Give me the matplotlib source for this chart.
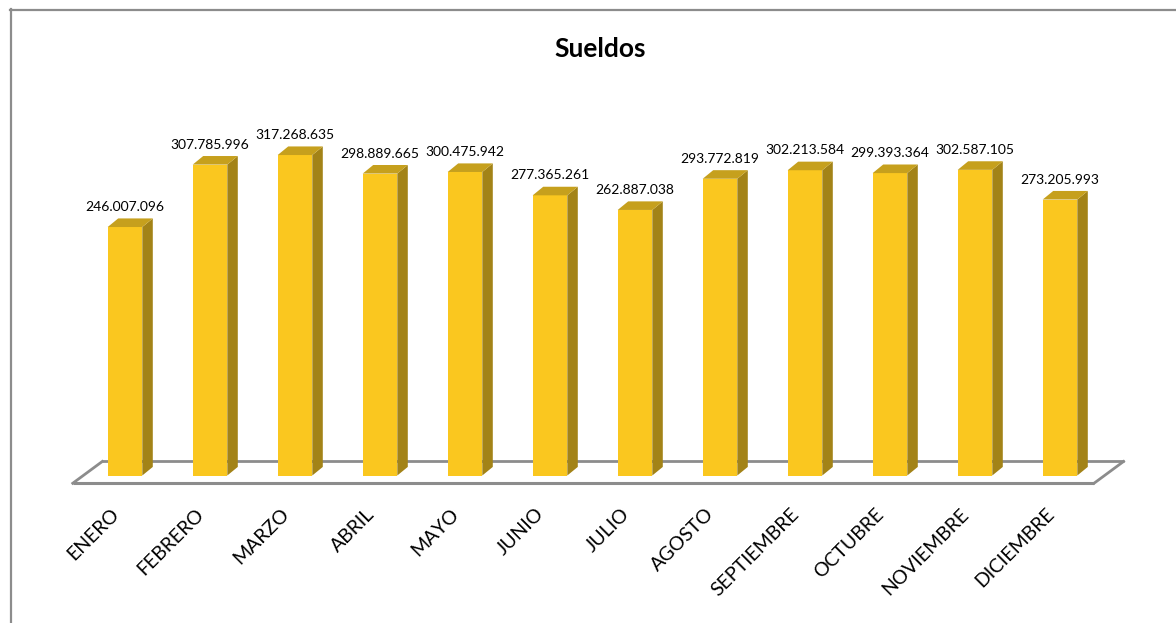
import matplotlib.pyplot as plt
from matplotlib.patches import Polygon
from matplotlib.lines import Line2D

meses = ["ENERO", "FEBRERO", "MARZO", "ABRIL", "MAYO", "JUNIO", "JULIO",
         "AGOSTO", "SEPTIEMBRE", "OCTUBRE", "NOVIEMBRE", "DICIEMBRE"]
sueldos = [246007096, 307785996, 317268635, 298889665, 300475942, 277365261,
           262887038, 293772819, 302213584, 299393364, 302587105, 273205993]
etiquetas = ["246.007.096", "307.785.996", "317.268.635", "298.889.665",
             "300.475.942", "277.365.261", "262.887.038", "293.772.819",
             "302.213.584", "299.393.364", "302.587.105", "273.205.993"]

plt.rcParams['font.family'] = ['Lato', 'DejaVu Sans']

fig = plt.figure(figsize=(11.76, 6.23), dpi=100)
ax = fig.add_axes([0, 0, 1, 1])
ax.set_xlim(-125 / 85, (1176 - 125) / 85)
ax.set_ylim(-147.5 * 0.99e6, 475.5 * 0.99e6)
ax.axis('off')

# pseudo 3D depth of the bars and the floor
ancho = 0.407
dx, dy = 0.1235, 8.5e6
frente = '#FAC71F'
lado = '#A38317'
techo = '#C6A01D'
gris = '#8C8C8C'

# floor parallelogram: back edge first (hidden by bars), front edge on top
piso_y0, piso_y1 = -7.7e6, 13.9e6
piso_x0, piso_x1 = -0.615, 11.4
piso_dx = 0.348
ax.plot([piso_x0 + piso_dx, piso_x1 + piso_dx], [piso_y1, piso_y1],
        color=gris, lw=2, zorder=1, solid_capstyle='butt')
ax.plot([piso_x0, piso_x0 + piso_dx], [piso_y0, piso_y1],
        color=gris, lw=2, zorder=1)
ax.plot([piso_x1, piso_x1 + piso_dx], [piso_y0, piso_y1],
        color=gris, lw=2, zorder=4)
ax.plot([piso_x0, piso_x1], [piso_y0, piso_y0],
        color=gris, lw=2.2, zorder=4, solid_capstyle='butt')

for i, v in enumerate(sueldos):
    x0, x1 = i - ancho / 2, i + ancho / 2
    ax.add_patch(Polygon([(x0, 0), (x1, 0), (x1, v), (x0, v)],
                         closed=True, fc=frente, ec='none', zorder=3))
    ax.add_patch(Polygon([(x1, 0), (x1 + dx, dy), (x1 + dx, v + dy), (x1, v)],
                         closed=True, fc=lado, ec='none', zorder=3))
    ax.add_patch(Polygon([(x0, v), (x1, v), (x1 + dx, v + dy), (x0 + dx, v + dy)],
                         closed=True, fc=techo, ec='none', zorder=3))
    ax.annotate(etiquetas[i], (i, v), xytext=(0, 11.5), textcoords='offset points',
                ha='center', va='baseline', fontsize=10, color='#000000')
    ax.text(i - 0.03, -29.5e6, meses[i], rotation=45, ha='right', va='top',
            fontsize=14, color='#000000')

fig.text(600 / 1176, 1 - 49 / 623, "Sueldos", ha='center', va='center',
         fontsize=19, fontweight='bold')

# outer chart frame (top and left edges visible)
fig.add_artist(Line2D([10 / 1176, 1], [1 - 9.5 / 623, 1 - 9.5 / 623],
                      transform=fig.transFigure, color=gris, lw=1.6))
fig.add_artist(Line2D([10.5 / 1176, 10.5 / 1176], [0, 1 - 9 / 623],
                      transform=fig.transFigure, color=gris, lw=1.6))

fig.savefig("out.png", dpi=100)
